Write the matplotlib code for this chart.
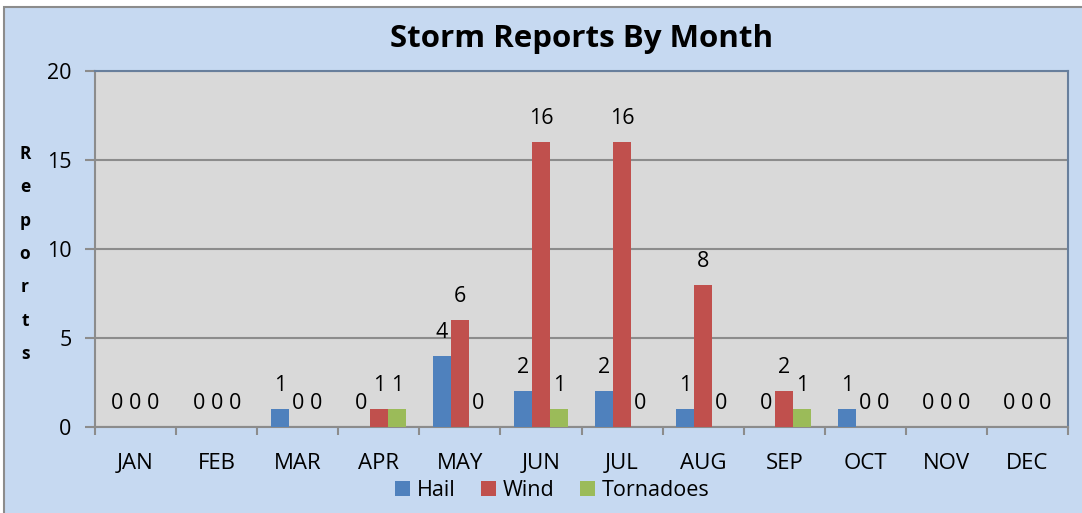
import matplotlib.pyplot as plt
import numpy as np
from matplotlib.patches import Rectangle

months = ["JAN", "FEB", "MAR", "APR", "MAY", "JUN", "JUL", "AUG", "SEP", "OCT", "NOV", "DEC"]
hail = [0, 0, 1, 0, 4, 2, 2, 1, 0, 1, 0, 0]
wind = [0, 0, 0, 1, 6, 16, 16, 8, 2, 0, 0, 0]
tornadoes = [0, 0, 0, 1, 0, 1, 0, 0, 1, 0, 0, 0]

plt.rcParams['font.family'] = ['Open Sans', 'DejaVu Sans']

fig = plt.figure(figsize=(10.82, 5.13), dpi=100)
fig.patch.set_facecolor("white")
# outer chart area with border
fig.patches.append(Rectangle((4 / 1082, -0.01), 1.02, 1 - 7 / 513 + 0.01,
                             transform=fig.transFigure, facecolor="#C6D9F1",
                             edgecolor="#8C8C8C", linewidth=1.5, zorder=-5))

ax = fig.add_axes([95 / 1082, 86 / 513, 973 / 1082, 356 / 513])
ax.set_facecolor("#D9D9D9")

x = np.arange(len(months))
w = 1 / 4.5
series = [(hail, "Hail", "#4F81BD"), (wind, "Wind", "#C0504D"), (tornadoes, "Tornadoes", "#9BBB59")]
for i, (vals, name, col) in enumerate(series):
    pos = x + (i - 1) * w
    ax.bar(pos, vals, width=w, color=col, label=name, zorder=3)
    for px, v in zip(pos, vals):
        ax.annotate(str(v), (px, v), xytext=(0, 13), textcoords="offset pixels",
                    ha="center", va="bottom", fontsize=15.5, color="black")

ax.set_xlim(-0.5, 11.5)
ax.set_ylim(0, 20)
ax.set_yticks([0, 5, 10, 15, 20])
ax.yaxis.grid(True, color="#8C8C8C", linewidth=1.5, zorder=1)
ax.set_axisbelow(True)
ax.set_xticks(x)
ax.set_xticklabels(months, fontsize=16)
ax.set_xticks(np.arange(-0.5, 12, 1), minor=True)
ax.tick_params(axis="x", which="major", length=0, pad=19)
ax.tick_params(axis="x", which="minor", length=6, width=1.5, color="#8C8C8C", direction="out")
ax.tick_params(axis="y", length=7, width=1.5, color="#8C8C8C", labelsize=15.5, pad=10)

for s in ["left", "bottom"]:
    ax.spines[s].set_color("#8C8C8C")
    ax.spines[s].set_linewidth(1.5)
for s in ["top", "right"]:
    ax.spines[s].set_color("#687F9C")
    ax.spines[s].set_linewidth(1.5)

ax.set_title("Storm Reports By Month", fontsize=22.5, fontweight="bold", pad=17)

fig.text(25 / 1082, 1 - 254 / 513, "\n".join("Reports"), ha="center", va="center",
         fontsize=12.5, fontweight="bold", linespacing=2.1)

ax.legend(loc="upper center", bbox_to_anchor=(0.47, -0.125), ncol=3, frameon=False,
          fontsize=15.5, handlelength=0.7, handleheight=0.7, handletextpad=0.3,
          columnspacing=1.2, borderaxespad=0)

fig.savefig("out.png", dpi=100, facecolor=fig.get_facecolor())
